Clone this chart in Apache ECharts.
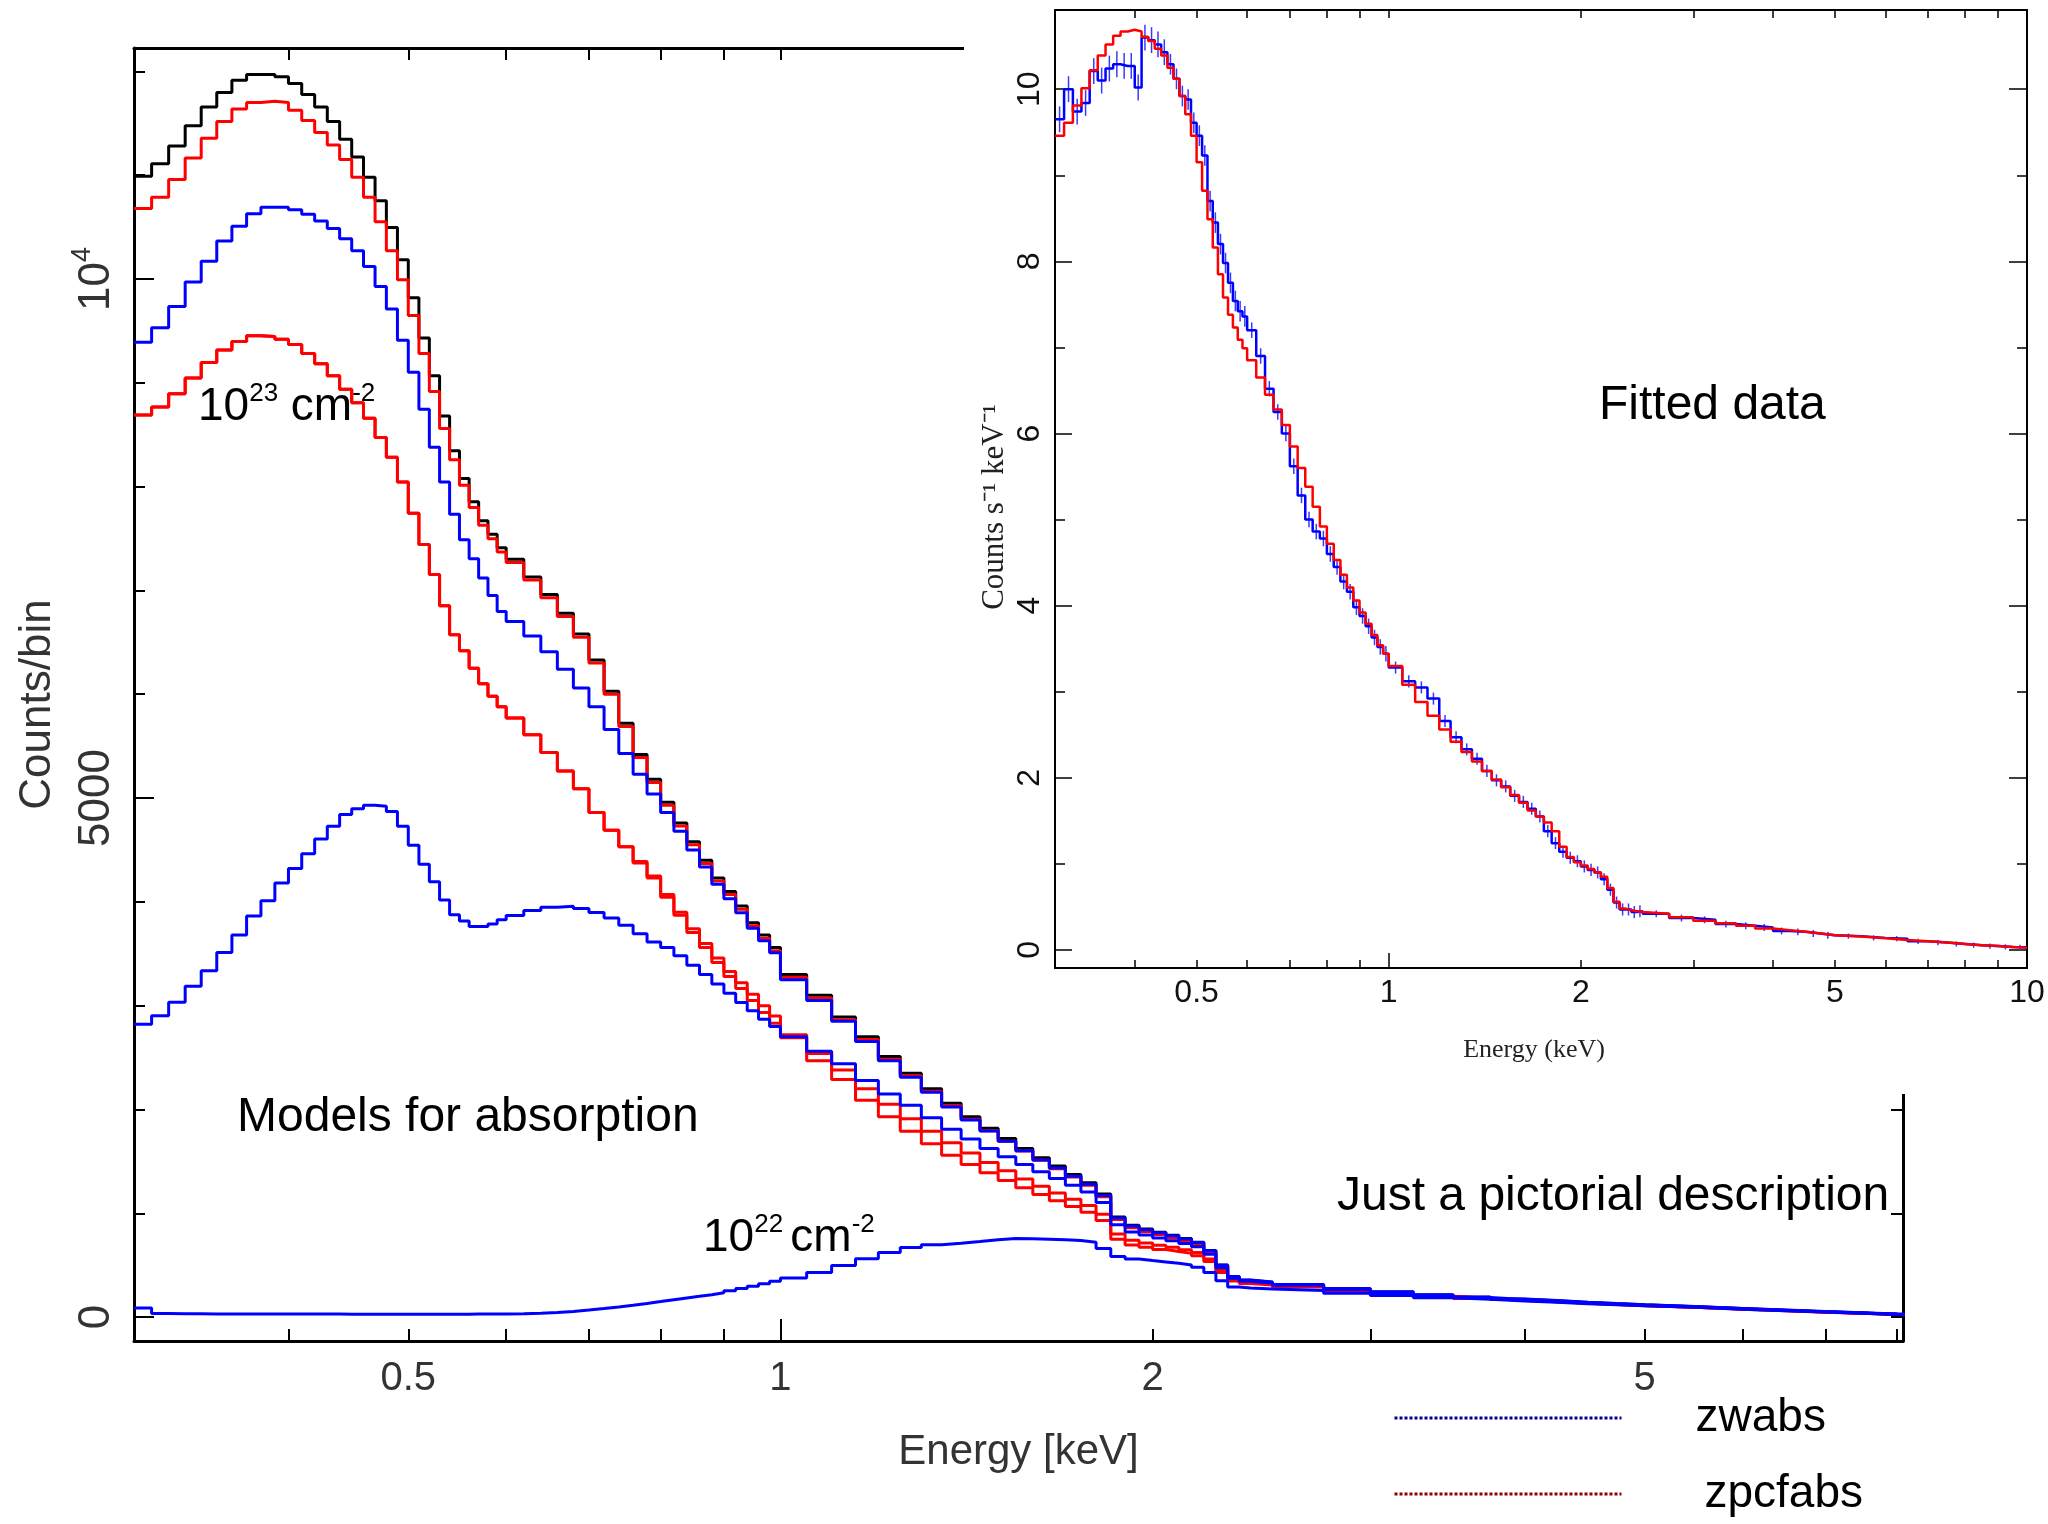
<!DOCTYPE html>
<html><head><meta charset="utf-8">
<script src="https://cdn.jsdelivr.net/npm/echarts@6/dist/echarts.min.js"></script>
<style>html,body{margin:0;padding:0;background:#fff}#c{width:2048px;height:1524px}</style>
</head><body><div id="c"></div>
<script>
// ---- bin edges (keV) shared by the model curves and the inset spectrum ----
const energyEdges = [0.30,0.31,0.32,0.33,0.34,0.35,0.36,0.37,0.38,0.39,0.40,0.41,0.42,0.43,0.44,0.45,0.46,0.47,0.48,0.49,0.50,0.51,0.52,0.53,0.54,0.55,0.56,0.57,0.58,0.59,0.60,
0.62,0.64,0.66,0.68,0.70,0.72,0.74,0.76,0.78,0.80,0.82,0.84,0.86,0.88,0.90,0.92,0.94,0.96,0.98,1.00,
1.05,1.10,1.15,1.20,1.25,1.30,1.35,1.40,1.45,1.50,1.55,1.60,1.65,1.70,1.75,1.80,1.85,1.90,1.95,2.00,2.05,2.10,2.15,2.20,2.25,2.30,2.35,2.40,2.45,2.50,
2.75,3.00,3.25,3.50,3.75,4.00,4.25,4.50,4.75,5.00,
5.5,6.0,6.5,7.0,7.5,8.0,8.5,9.0,9.5,10.0];

// ---- main panel: counts per bin ----
const unabsorbed = [10989,11110,11281,11475,11656,11797,11914,11970,11970,11948,
11884,11776,11656,11518,11346,11174,10980,10753,10495,10185,
9820,9432,9067,8680,8345,8078,7854,7670,7540,7412,
7300,7130,6960,6780,6580,6330,6030,5720,5420,5180,
4960,4760,4580,4400,4230,4100,3960,3800,3680,3560,
3300,3100,2890,2700,2510,2350,2200,2060,1930,1820,
1720,1625,1535,1455,1375,1295,1185,965,885,848,
818,788,758,722,642,502,392,356,346,336,
312,272,242,212,192,172,157,142,130,119,
101,83,67,52,40,28,18];
const zpcfabsLow = [10680,10787,10959,11165,11355,11518,11638,11699,11712,11699,
11626,11527,11411,11290,11152,10980,10787,10551,10271,9992,
9648,9282,8917,8560,8259,8014,7799,7627,7497,7369,
7270,7100,6930,6750,6550,6300,6000,5690,5390,5150,
4930,4730,4550,4370,4200,4070,3930,3770,3650,3530,
3275,3075,2865,2675,2485,2325,2175,2035,1905,1795,
1695,1600,1510,1430,1350,1270,1160,940,862,825,
795,765,735,700,622,485,377,342,332,322,
298,258,228,200,180,162,147,133,121,111,
94,77,62,48,37,26,16];
const zpcfabs23a = [8689,8766,8895,9046,9196,9316,9398,9454,9445,9420,
9368,9282,9183,9067,8938,8809,8659,8474,8284,8044,
7743,7442,7154,6853,6573,6420,6250,6100,5980,5880,
5770,5610,5440,5260,5090,4860,4690,4530,4390,4250,
4070,3900,3740,3600,3460,3330,3220,3110,3000,2900,
2720,2540,2380,2200,2050,1910,1790,1680,1580,1490,
1410,1330,1260,1195,1135,1075,990,800,740,715,
693,672,650,622,560,450,360,335,325,317,
295,258,229,202,183,164,149,135,123,112,
96,79,64,50,38,27,17];
const zpcfabs23b = [8689,8766,8895,9046,9196,9316,9398,9454,9445,9420,
9368,9282,9183,9067,8938,8809,8659,8474,8284,8044,
7743,7442,7154,6853,6573,6420,6250,6100,5980,5880,
5770,5610,5440,5260,5090,4860,4690,4530,4375,4230,
4045,3870,3705,3560,3415,3280,3165,3050,2935,2830,
2690,2470,2290,2090,1930,1790,1670,1560,1470,1390,
1315,1245,1180,1120,1065,1010,930,750,695,672,
652,633,614,590,535,430,348,325,317,310,
290,253,225,198,180,161,147,133,121,110,
95,78,63,50,38,27,17];
const zwabsLow = [9390,9531,9734,9970,10172,10366,10508,10628,10692,10692,
10667,10624,10559,10486,10387,10271,10121,9927,9712,9411,
9101,8745,8379,8044,7734,7489,7304,7119,6951,6797,
6700,6560,6410,6240,6060,5880,5660,5430,5230,5040,
4860,4680,4500,4335,4170,4030,3895,3745,3625,3510,
3250,3050,2850,2655,2470,2310,2165,2025,1900,1793,
1695,1602,1514,1436,1358,1280,1172,955,877,842,
813,783,753,718,640,500,392,358,348,338,
315,275,245,215,195,175,159,144,131,120,
102,84,68,53,41,29,19];
const zwabsMid = [2822,2904,3033,3187,3337,3512,3682,3864,4010,4181,
4322,4464,4606,4728,4841,4898,4930,4922,4870,4728,
4545,4363,4193,4018,3877,3816,3763,3763,3787,3828,
3868,3917,3949,3958,3937,3897,3844,3775,3694,3613,
3560,3480,3390,3300,3210,3120,3030,2950,2870,2800,
2700,2560,2440,2280,2150,2040,1920,1810,1715,1625,
1545,1470,1400,1335,1270,1205,1105,890,820,790,
762,736,710,678,605,475,375,345,337,328,
306,266,236,208,188,169,153,139,126,115,
99,81,65,51,39,28,18];
const zwabsHigh = [88,36,33,32,31,31,30,30,30,30,
29,29,29,29,28,28,28,28,28,28,
28,28,28,28,28,28,29,29,30,31,
33,38,45,55,68,82,98,115,132,150,
168,185,200,216,235,255,275,298,322,345,
378,430,498,562,622,670,698,712,728,745,
758,755,750,745,738,722,660,585,560,545,
532,518,502,480,430,350,290,280,275,270,
256,230,208,187,171,156,143,130,119,109,
94,77,62,49,37,26,16];

// ---- inset: counts s^-1 keV^-1 ----
const fitModel = [9.46,9.61,9.81,10.01,10.22,10.39,10.52,10.62,10.67,10.69,
10.67,10.61,10.56,10.47,10.39,10.25,10.12,9.92,9.71,9.46,
9.15,8.82,8.49,8.16,7.85,7.58,7.38,7.23,7.09,6.99,
6.85,6.65,6.45,6.28,6.10,5.85,5.60,5.38,5.15,4.92,
4.72,4.53,4.36,4.21,4.06,3.92,3.79,3.66,3.54,3.44,
3.30,3.08,2.88,2.72,2.56,2.42,2.30,2.19,2.08,1.98,
1.89,1.80,1.71,1.62,1.55,1.48,1.38,1.20,1.08,1.02,
0.98,0.94,0.90,0.85,0.72,0.56,0.48,0.46,0.45,0.44,
0.42,0.38,0.34,0.31,0.28,0.25,0.23,0.21,0.19,0.17,
0.155,0.135,0.115,0.10,0.085,0.07,0.055,0.045,0.035,0.025];
const observedRate = [9.65,10.00,9.74,9.84,10.21,10.10,10.24,10.29,10.27,10.27,
10.02,10.60,10.57,10.52,10.43,10.29,10.12,9.92,9.88,9.61,
9.46,9.23,8.70,8.45,8.20,7.98,7.75,7.54,7.42,7.36,
7.20,6.90,6.52,6.25,6.00,5.62,5.28,5.00,4.86,4.78,
4.60,4.45,4.28,4.16,3.98,3.88,3.76,3.63,3.52,3.44,
3.28,3.12,3.05,2.92,2.66,2.47,2.33,2.22,2.08,1.97,
1.90,1.79,1.72,1.64,1.55,1.38,1.24,1.14,1.07,1.03,
0.97,0.93,0.90,0.82,0.70,0.55,0.47,0.47,0.44,0.45,
0.42,0.37,0.35,0.30,0.28,0.26,0.22,0.21,0.19,0.17,
0.16,0.14,0.13,0.10,0.085,0.07,0.055,0.045,0.035,0.03];
const observedErr = [0.15,0.15,0.15,0.15,0.15,0.15,0.15,0.15,0.15,0.15,
0.15,0.15,0.15,0.15,0.15,0.12,0.12,0.12,0.12,0.12,
0.12,0.12,0.12,0.12,0.12,0.12,0.12,0.12,0.12,0.12,
0.09,0.09,0.09,0.09,0.09,0.09,0.09,0.09,0.09,0.09,
0.09,0.09,0.09,0.09,0.09,0.09,0.09,0.09,0.09,0.09,
0.07,0.07,0.07,0.07,0.07,0.07,0.07,0.07,0.07,0.07,
0.07,0.07,0.07,0.07,0.07,0.07,0.07,0.07,0.07,0.07,
0.07,0.07,0.07,0.07,0.07,0.07,0.07,0.07,0.07,0.07,
0.04,0.04,0.04,0.04,0.04,0.04,0.04,0.04,0.04,0.04,
0.03,0.03,0.03,0.03,0.03,0.03,0.03,0.03,0.03,0.03];

// ---- ticks ----
const mainTickMinor = [0.4,0.5,0.6,0.7,0.8,0.9,2,3,4,5,6,7,8];
const mainTickMajor = [1];
const mainTickLabels = [0.5,1,2,5];
const insetTickMinor = [0.4,0.5,0.6,0.7,0.8,0.9,2,3,4,5,6,7,8,9];
const insetTickMajor = [1,10];
const insetTickLabels = [0.5,1,2,5,10];
const countTicksMinor = [1000,2000,3000,4000,6000,7000,8000,9000,11000,12000];
const countTicksMajor = [0,5000,10000];
const rateTicksMajor = [0,2,4,6,8,10];
const rateTicksMinor = [1,3,5,7,9];

const SANS = '"Liberation Sans", Arial, Helvetica, sans-serif';
const NARROW = '"Liberation Sans Narrow", "Arial Narrow", "Liberation Sans", sans-serif';
const SERIF = '"Liberation Serif", "Times New Roman", serif';
const L = Math.log10;

function stepData(vals) {
  const out = [];
  const n = Math.min(vals.length, energyEdges.length - 1);
  for (let i = 0; i < n; i++) out.push([L(energyEdges[i]), vals[i]]);
  out.push([L(energyEdges[n]), vals[n - 1]]);
  return out;
}
function errData(vals, errs) {
  const out = [];
  for (let i = 0; i < vals.length; i++) {
    const c = (energyEdges[i] + energyEdges[i + 1]) / 2;
    out.push([L(c), vals[i] - errs[i], vals[i] + errs[i]]);
  }
  return out;
}
function fmtE(v) { return String(Math.round(Math.pow(10, v) * 10) / 10); }

const MX = [L(0.3), L(8.09)];
const IX = [L(0.3), 1];
const MY = [-230, 12225];
const IY = [-0.21, 10.92];
const black = '#000';

function xAx(grid, pos, range, opt) {
  return Object.assign({
    gridIndex: grid, type: 'value', position: pos, min: range[0], max: range[1],
    axisLine: { show: false, onZero: false },
    axisTick: { show: false }, axisLabel: { show: false }, splitLine: { show: false }
  }, opt);
}

const chart = echarts.init(document.getElementById('c'), null, { renderer: 'canvas', width: 2048, height: 1524 });

const mainLine = (name, vals, color, z) => ({
  name, type: 'line', step: 'end', xAxisIndex: 0, yAxisIndex: 0, data: stepData(vals),
  symbol: 'none', showSymbol: false, silent: true, z: z || 2,
  lineStyle: { color, width: 3 }, itemStyle: { color }
});

const option = {
  animation: false,
  backgroundColor: '#fff',
  grid: [
    { left: 134, right: 145, top: 48, bottom: 183 },
    { left: 1055, right: 21, top: 10, bottom: 556, z: 60 }
  ],
  legend: {
    orient: 'vertical', left: 1393, top: 1393, height: 131, padding: 0,
    itemWidth: 227, itemHeight: 3, itemGap: 26,
    selectedMode: false,
    itemStyle: { opacity: 0 },
    data: [
      { name: 'zwabs', lineStyle: { color: '#00008b', width: 3, type: [3, 2] }, itemStyle: { opacity: 0 } },
      { name: 'zpcfabs', lineStyle: { color: '#8b0000', width: 3, type: [3, 2] }, itemStyle: { opacity: 0 } }
    ],
    formatter: n => n === 'zwabs' ? '{a|zwabs}' : '{b|zpcfabs}',
    textStyle: {
      color: '#000', fontFamily: SANS, fontSize: 46, lineHeight: 50,
      rich: {
        a: { fontSize: 46, fontFamily: SANS, lineHeight: 50, padding: [0, 0, 0, 69] },
        b: { fontSize: 46, fontFamily: SANS, lineHeight: 50, padding: [0, 0, 0, 78] }
      }
    }
  },
  xAxis: [
    xAx(0, 'bottom', MX, {
      axisLine: { show: true, onZero: false, lineStyle: { color: black, width: 3 } },
      axisTick: { show: true, inside: true, length: 12, customValues: mainTickMinor.map(L), lineStyle: { color: black, width: 2 } },
      axisLabel: { show: true, customValues: mainTickLabels.map(L), formatter: fmtE, margin: 18, fontSize: 40, color: '#333', fontFamily: SANS },
      name: 'Energy [keV]', nameLocation: 'middle', nameGap: 90,
      nameTextStyle: { fontSize: 42, color: '#333', fontFamily: SANS }
    }),
    xAx(0, 'bottom', MX, {
      axisTick: { show: true, inside: true, length: 22, customValues: mainTickMajor.map(L), lineStyle: { color: black, width: 2 } }
    }),
    xAx(0, 'top', MX, {
      axisLine: { show: true, onZero: false, lineStyle: { color: black, width: 3 } },
      axisTick: { show: true, inside: true, length: 12, customValues: mainTickMinor.concat(mainTickMajor).map(L), lineStyle: { color: black, width: 2 } }
    }),
    xAx(1, 'bottom', IX, {
      z: 60,
      axisLine: { show: true, onZero: false, lineStyle: { color: black, width: 2 } },
      axisTick: { show: true, inside: true, length: 8, customValues: insetTickMinor.map(L), lineStyle: { color: black, width: 1.5 } },
      axisLabel: { show: true, customValues: insetTickLabels.map(L), formatter: fmtE, margin: 9, fontSize: 32, color: '#111', fontFamily: NARROW },
      name: 'Energy (keV)', nameLocation: 'middle', nameGap: 69,
      nameTextStyle: { fontSize: 26, color: '#222', fontFamily: SERIF, padding: [0, 14, 0, 0] }
    }),
    xAx(1, 'bottom', IX, {
      z: 60,
      axisTick: { show: true, inside: true, length: 15, customValues: insetTickMajor.map(L), lineStyle: { color: black, width: 1.5 } }
    }),
    xAx(1, 'top', IX, {
      z: 60,
      axisLine: { show: true, onZero: false, lineStyle: { color: black, width: 2 } },
      axisTick: { show: true, inside: true, length: 8, customValues: insetTickMinor.concat(insetTickMajor).map(L), lineStyle: { color: black, width: 1.5 } }
    })
  ],
  yAxis: [
    xAx(0, 'left', MY, {
      axisLine: { show: true, onZero: false, lineStyle: { color: black, width: 3 } },
      axisTick: { show: true, inside: true, length: 11, customValues: countTicksMinor, lineStyle: { color: black, width: 2 } },
      axisLabel: {
        show: true, customValues: countTicksMajor, rotate: 90, margin: 15, color: '#333',
        formatter: v => v === 10000 ? '{n|10}{s|4}' : '{n|' + v + '}',
        rich: {
          n: { fontSize: 44, fontFamily: SANS, color: '#333', lineHeight: 50, verticalAlign: 'bottom' },
          s: { fontSize: 27, fontFamily: SANS, color: '#333', lineHeight: 34, verticalAlign: 'top' }
        }
      },
      name: 'Counts/bin', nameLocation: 'middle', nameGap: 74, nameRotate: 90,
      nameTextStyle: { fontSize: 44, color: '#333', fontFamily: SANS, padding: [0, 20, 0, 0] }
    }),
    xAx(0, 'left', MY, {
      axisTick: { show: true, inside: true, length: 20, customValues: countTicksMajor, lineStyle: { color: black, width: 2 } }
    }),
    xAx(0, 'right', MY, {
      axisLine: { show: true, onZero: false, lineStyle: { color: black, width: 3 } },
      axisTick: { show: true, inside: true, length: 12, customValues: countTicksMinor.concat(countTicksMajor), lineStyle: { color: black, width: 2 } }
    }),
    xAx(1, 'left', IY, {
      z: 60,
      axisLine: { show: true, onZero: false, lineStyle: { color: black, width: 2 } },
      axisTick: { show: true, inside: true, length: 17, customValues: rateTicksMajor, lineStyle: { color: black, width: 1.5 } },
      axisLabel: { show: true, customValues: rateTicksMajor, rotate: 90, margin: 9, fontSize: 32, color: '#111', fontFamily: NARROW },
      name: 'Counts s\u207B\u00B9 keV\u207B\u00B9', nameLocation: 'middle', nameGap: 45, nameRotate: 90,
      nameTextStyle: { fontSize: 31, color: '#222', fontFamily: SERIF, padding: [0, 36, 0, 0] }
    }),
    xAx(1, 'left', IY, {
      z: 60,
      axisTick: { show: true, inside: true, length: 10, customValues: rateTicksMinor, lineStyle: { color: black, width: 1.5 } }
    }),
    xAx(1, 'right', IY, {
      z: 60,
      axisLine: { show: true, onZero: false, lineStyle: { color: black, width: 2 } },
      axisTick: { show: true, inside: true, length: 18, customValues: rateTicksMajor, lineStyle: { color: black, width: 1.5 } }
    }),
    xAx(1, 'right', IY, {
      z: 60,
      axisTick: { show: true, inside: true, length: 10, customValues: rateTicksMinor, lineStyle: { color: black, width: 1.5 } }
    })
  ],
  graphic: {
    elements: [
      { type: 'rect', z: 50, shape: { x: 964, y: 0, width: 1084, height: 1094 }, style: { fill: '#fff' }, silent: true },
      { type: 'text', z: 70, x: 1599, y: 405.5, style: { text: 'Fitted data', fill: '#000', font: '48px ' + SANS, align: 'left', verticalAlign: 'middle' } },
      { type: 'text', z: 10, x: 237, y: 1118, style: { text: 'Models for absorption', fill: '#000', font: '48px ' + SANS, align: 'left', verticalAlign: 'middle' } },
      { type: 'text', z: 10, x: 1337, y: 1197, style: { text: 'Just a pictorial description', fill: '#000', font: '48px ' + SANS, align: 'left', verticalAlign: 'middle' } },
      { type: 'text', z: 10, x: 198, y: 405.6, style: {
          text: '{a|10}{s|23}{a| cm}{s|-2}', fill: '#000', align: 'left', verticalAlign: 'middle',
          rich: { a: { fontSize: 46, fontFamily: SANS, lineHeight: 50, verticalAlign: 'bottom' },
                  s: { fontSize: 26, fontFamily: SANS, lineHeight: 36, verticalAlign: 'top' } } } },
      { type: 'text', z: 10, x: 703, y: 1236.6, style: {
          text: '{a|10}{s|22 }{a|cm}{s|-2}', fill: '#000', align: 'left', verticalAlign: 'middle',
          rich: { a: { fontSize: 46, fontFamily: SANS, lineHeight: 50, verticalAlign: 'bottom' },
                  s: { fontSize: 26, fontFamily: SANS, lineHeight: 36, verticalAlign: 'top' } } } }
    ]
  },
  series: [
    mainLine('unabsorbed', unabsorbed, '#000000'),
    mainLine('zpcfabs', zpcfabsLow, '#ff0000'),
    mainLine('zpcfabs', zpcfabs23a, '#ff0000'),
    mainLine('zpcfabs', zpcfabs23b, '#ff0000'),
    mainLine('zwabs', zwabsLow, '#0000ff', 3),
    mainLine('zwabs', zwabsMid, '#0000ff', 3),
    mainLine('zwabs', zwabsHigh, '#0000ff', 3),
    {
      name: 'data errors', type: 'custom', xAxisIndex: 3, yAxisIndex: 3, z: 61, silent: true,
      data: errData(observedRate, observedErr),
      encode: { x: 0, y: [1, 2] },
      renderItem: (params, api) => {
        const a = api.coord([api.value(0), api.value(1)]);
        const b = api.coord([api.value(0), api.value(2)]);
        return { type: 'line', shape: { x1: a[0], y1: a[1], x2: b[0], y2: b[1] }, style: { stroke: '#3a3aff', lineWidth: 1.5 } };
      }
    },
    {
      name: 'observed', type: 'line', step: 'end', xAxisIndex: 3, yAxisIndex: 3, z: 62, silent: true,
      data: stepData(observedRate), symbol: 'none', showSymbol: false,
      lineStyle: { color: '#0000ff', width: 2.5 }, itemStyle: { color: '#0000ff' }
    },
    {
      name: 'fit', type: 'line', step: 'end', xAxisIndex: 3, yAxisIndex: 3, z: 63, silent: true,
      data: stepData(fitModel), symbol: 'none', showSymbol: false,
      lineStyle: { color: '#ff0000', width: 2.5 }, itemStyle: { color: '#ff0000' }
    }
  ]
};
chart.setOption(option);
</script>
</body></html>
